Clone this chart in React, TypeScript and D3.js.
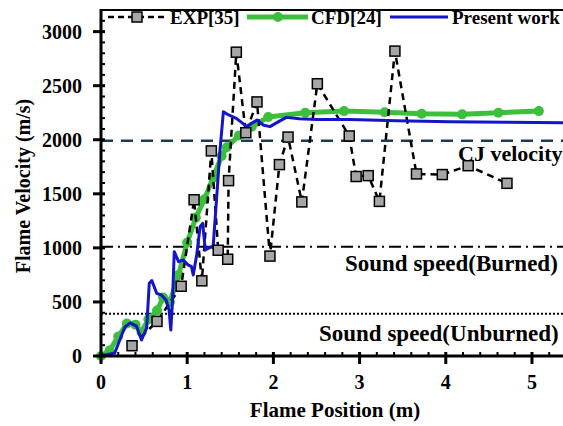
import React, { useRef, useEffect } from 'react';
import * as d3 from 'd3';

// EXP[35] measured points
const expX = [0.36, 0.65, 0.93, 1.08, 1.17, 1.28, 1.36, 1.47, 1.48, 1.57, 1.68, 1.81, 1.96, 2.07, 2.17, 2.33, 2.51, 2.88, 2.96, 3.1, 3.23, 3.41, 3.66, 3.96, 4.26, 4.71];
const expY = [95, 320, 645, 1445, 695, 1897, 978, 895, 1622, 2810, 2065, 2350, 924, 1770, 2025, 1425, 2518, 2035, 1660, 1668, 1430, 2820, 1684, 1678, 1760, 1597];

// CFD[24]
const cfdX = [0, 0.1, 0.2, 0.3, 0.4, 0.47, 0.55, 0.65, 0.72, 0.8, 0.9, 1.0, 1.1, 1.2, 1.3, 1.4, 1.46, 1.6, 1.75, 1.94, 2.37, 2.82, 3.29, 3.72, 4.19, 4.61, 5.08];
const cfdY = [0, 50, 180, 300, 290, 220, 340, 420, 540, 500, 750, 1050, 1280, 1450, 1650, 1850, 1930, 2040, 2120, 2210, 2250, 2265, 2255, 2240, 2235, 2250, 2265];

// Present work
const simX = [0, 0.05, 0.16, 0.24, 0.28, 0.34, 0.41, 0.47, 0.53, 0.56, 0.59, 0.646, 0.7, 0.754, 0.79, 0.81, 0.83, 0.85, 0.9, 0.955, 1.01, 1.05, 1.07, 1.11, 1.15, 1.18, 1.21, 1.245, 1.28, 1.3, 1.34, 1.38, 1.42, 1.48, 1.57, 1.63, 1.69, 1.75, 1.81, 1.88, 1.96, 2.04, 2.15, 2.3, 2.5, 2.89, 3.43, 4.05, 4.7, 5.4];
const simY = [15, 10, 28, 194, 271, 306, 277, 148, 259, 672, 697, 580, 564, 518, 425, 240, 518, 965, 872, 888, 842, 826, 749, 934, 1196, 1227, 980, 996, 1011, 1000, 1443, 1900, 2260, 2229, 2198, 2160, 2121, 2152, 2183, 2137, 2121, 2158, 2207, 2195, 2188, 2188, 2176, 2167, 2162, 2158];

// reference levels
const refNames = ['CJ velocity', 'Sound speed(Burned)', 'Sound speed(Unburned)'];
const refValues = [1990, 1010, 390];

const yTicks = [0, 500, 1000, 1500, 2000, 2500, 3000];
const xTicks = [0, 1, 2, 3, 4, 5];

const W = 563, H = 426;
const FONT = '"Liberation Serif", "Times New Roman", serif';

const App = () => {
  const svgRef = useRef(null);

  useEffect(() => {
    const svg = d3.select(svgRef.current);
    svg.selectAll('*').remove();

    const x = d3.scaleLinear().domain([0, 5.36]).range([101, 563]);
    const y = d3.scaleLinear().domain([0, 3200]).range([356, 10]);

    const g = svg.append('g');

    // reference lines
    const refStyles = [
      { stroke: '#1f3b57', dash: '12,8', w: 2.5 },
      { stroke: '#000', dash: '12,5,2,5', w: 2 },
      { stroke: '#000', dash: '2,2', w: 2 },
    ];
    refValues.forEach((v, i) => {
      g.append('line')
        .attr('x1', x(0)).attr('x2', W)
        .attr('y1', y(v)).attr('y2', y(v))
        .attr('stroke', refStyles[i].stroke)
        .attr('stroke-width', refStyles[i].w)
        .attr('stroke-dasharray', refStyles[i].dash);
    });
    const refLabelX = [458, 345, 319];
    const refLabelSize = [22, 23, 23];
    const refLabelDy = [20, 24, 27];
    refValues.forEach((v, i) => {
      g.append('text')
        .attr('x', refLabelX[i]).attr('y', y(v) + refLabelDy[i])
        .attr('font-family', FONT).attr('font-weight', 'bold').attr('font-size', refLabelSize[i])
        .text(refNames[i]);
    });

    // CFD line
    const cfd = cfdX.map((d, i) => [d, cfdY[i]]);
    const line = d3.line().x(d => x(d[0])).y(d => y(d[1]));
    g.append('path').attr('d', line(cfd))
      .attr('fill', 'none').attr('stroke', '#3cbf3c').attr('stroke-width', 5)
      .attr('stroke-linejoin', 'round');
    g.selectAll('.cfd').data(cfd).enter().append('circle')
      .attr('cx', d => x(d[0])).attr('cy', d => y(d[1])).attr('r', 5)
      .attr('fill', '#3cbf3c');

    // EXP dashed
    const exp = expX.map((d, i) => [d, expY[i]]);
    g.append('path').attr('d', line(exp))
      .attr('fill', 'none').attr('stroke', '#000').attr('stroke-width', 2.5)
      .attr('stroke-dasharray', '7,5');

    // Present work
    const sim = simX.map((d, i) => [d, simY[i]]);
    g.append('path').attr('d', line(sim))
      .attr('fill', 'none').attr('stroke', '#1414c8').attr('stroke-width', 3)
      .attr('stroke-linejoin', 'round');

    g.selectAll('.exp').data(exp).enter().append('rect')
      .attr('x', d => x(d[0]) - 5).attr('y', d => y(d[1]) - 5)
      .attr('width', 10).attr('height', 10)
      .attr('fill', '#a6a6a6').attr('stroke', '#000').attr('stroke-width', 1.5);

    // axes
    const ax = svg.append('g').attr('stroke', '#000');
    ax.append('line').attr('x1', x(0)).attr('x2', W).attr('y1', 10).attr('y2', 10).attr('stroke-width', 2);
    ax.append('line').attr('x1', x(0)).attr('x2', x(0)).attr('y1', 9).attr('y2', y(0) + 1.5).attr('stroke-width', 3);
    ax.append('line').attr('x1', x(0) - 1.5).attr('x2', W).attr('y1', y(0)).attr('y2', y(0)).attr('stroke-width', 3);

    d3.range(0, 3201, 100).forEach(v => {
      const major = v % 500 === 0;
      ax.append('line').attr('x1', major ? x(0) - 8 : x(0)).attr('x2', x(0) + 4)
        .attr('y1', y(v)).attr('y2', y(v)).attr('stroke-width', major ? 3 : 2);
    });
    d3.range(0, 27).map(i => i * 0.2).forEach(v => {
      const major = Math.abs(v - Math.round(v)) < 1e-6;
      ax.append('line').attr('x1', x(v)).attr('x2', x(v))
        .attr('y1', y(0) - 4).attr('y2', major ? y(0) + 8 : y(0))
        .attr('stroke-width', major ? 3 : 2);
    });

    svg.selectAll('.yt').data(yTicks).enter().append('text')
      .attr('x', 82).attr('y', d => y(d)).attr('dy', '0.35em')
      .attr('text-anchor', 'end')
      .attr('font-family', FONT).attr('font-weight', 'bold').attr('font-size', 20)
      .text(d => d);
    svg.selectAll('.xt').data(xTicks).enter().append('text')
      .attr('x', d => x(d)).attr('y', 389)
      .attr('text-anchor', 'middle')
      .attr('font-family', FONT).attr('font-weight', 'bold').attr('font-size', 20)
      .text(d => d);

    svg.append('text')
      .attr('transform', 'translate(23,186) rotate(-90)')
      .attr('text-anchor', 'middle').attr('dy', '0.35em')
      .attr('font-family', FONT).attr('font-weight', 'bold').attr('font-size', 20)
      .text('Flame Velocity (m/s)');
    svg.append('text')
      .attr('x', 335).attr('y', 417).attr('text-anchor', 'middle')
      .attr('font-family', FONT).attr('font-weight', 'bold').attr('font-size', 21)
      .text('Flame Position (m)');

    // legend
    const lg = svg.append('g').attr('font-family', FONT).attr('font-weight', 'bold').attr('font-size', 19);
    const ly = 17;
    lg.append('line').attr('x1', 108).attr('x2', 166).attr('y1', ly).attr('y2', ly)
      .attr('stroke', '#000').attr('stroke-width', 2.5).attr('stroke-dasharray', '6,4');
    lg.append('rect').attr('x', 132).attr('y', ly - 5).attr('width', 10).attr('height', 10)
      .attr('fill', '#a6a6a6').attr('stroke', '#000').attr('stroke-width', 1.5);
    lg.append('text').attr('x', 170).attr('y', ly + 7).text('EXP[35]');
    lg.append('line').attr('x1', 247).attr('x2', 308).attr('y1', ly).attr('y2', ly)
      .attr('stroke', '#3cbf3c').attr('stroke-width', 5);
    lg.append('circle').attr('cx', 278).attr('cy', ly).attr('r', 5).attr('fill', '#3cbf3c');
    lg.append('text').attr('x', 311).attr('y', ly + 7).text('CFD[24]');
    lg.append('line').attr('x1', 390).attr('x2', 448).attr('y1', ly).attr('y2', ly)
      .attr('stroke', '#1414c8').attr('stroke-width', 3);
    lg.append('text').attr('x', 452).attr('y', ly + 7).text('Present work');
  }, []);

  return (
    <svg ref={svgRef} width={W} height={H}
      style={{ position: 'absolute', left: 0, top: 0, background: '#fff' }} />
  );
};

export default App;
